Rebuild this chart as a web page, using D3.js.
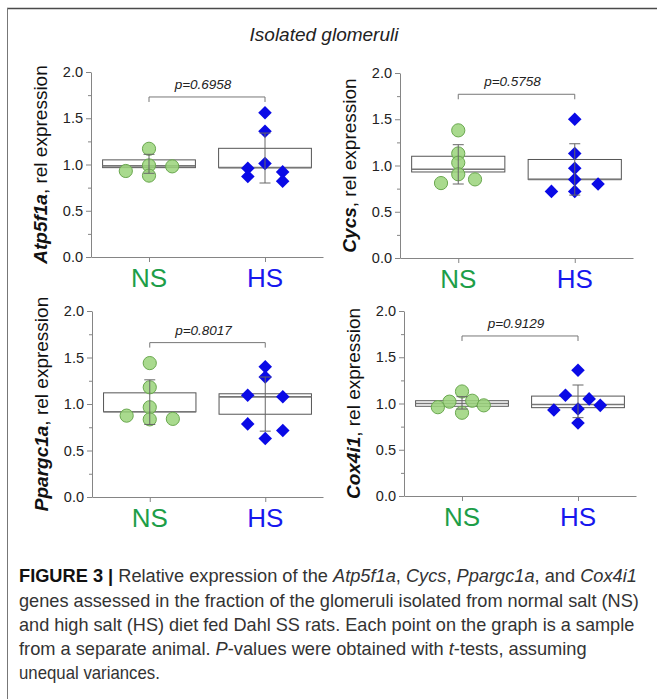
<!DOCTYPE html>
<html>
<head>
<meta charset="utf-8">
<script src="https://cdn.jsdelivr.net/npm/d3@7"></script>
<style>
  html, body { margin: 0; padding: 0; background: #fff; }
  svg { display: block; font-family: "Liberation Sans", Arial, sans-serif; }
</style>
</head>
<body>
<svg id="fig" width="657" height="699"></svg>
<script>
// ── Data ──────────────────────────────────────────────────────────
const groups  = ['NS', 'HS'];
const genes   = ['Atp5f1a', 'Cycs', 'Ppargc1a', 'Cox4i1'];
const pValues = ['0.6958', '0.5758', '0.8017', '0.9129'];
const bracketLevel = [1.73, 1.77, 1.66, 1.73];
const yTicks  = [0, 0.5, 1.0, 1.5, 2.0];
const yMinor  = [0.25, 0.75, 1.25, 1.75];

// individual samples (rel expression) and their horizontal jitter (-1..1 of half box)
const nsValues = [
  [0.93, 1.17, 0.99, 0.88, 0.98],
  [1.38, 1.13, 1.03, 0.905, 0.81, 0.85],
  [1.44, 1.18, 0.965, 0.835, 0.875, 0.84],
  [1.13, 0.90, 1.02, 1.03, 0.96, 0.98]
];
const nsJitter = [
  [-0.5, 0, 0, 0, 0.5],
  [0, 0, 0, 0, -0.37, 0.36],
  [0, 0, 0, 0, -0.5, 0.5],
  [0, 0, -0.27, 0.22, -0.52, 0.47]
];
const hsValues = [
  [1.56, 1.36, 1.01, 0.96, 0.87, 0.92, 0.82],
  [1.50, 1.13, 0.97, 0.85, 0.72, 0.72, 0.80],
  [1.40, 1.29, 1.095, 1.077, 0.786, 0.715, 0.63],
  [1.36, 1.09, 1.05, 0.93, 0.94, 0.98, 0.79]
];
const hsJitter = [
  [0, 0, 0, -0.37, -0.37, 0.38, 0.38],
  [0, 0, 0, 0, 0, -0.5, 0.5],
  [0, 0, -0.38, 0.38, -0.38, 0.38, 0],
  [0, -0.27, 0.24, -0.52, 0, 0.48, 0]
];

// box stats: [whiskerLow, q1, median, q3, whiskerHigh]
const nsBox = [
  [0.905, 0.966, 0.985, 1.05, 1.11],
  [0.80, 0.93, 0.96, 1.10, 1.225],
  [0.78, 0.916, 0.916, 1.12, 1.26],
  [0.94, 0.97, 1.00, 1.03, 1.074]
];
const hsBox = [
  [0.80, 0.966, 0.966, 1.175, 1.34],
  [0.68, 0.85, 0.85, 1.065, 1.235],
  [0.708, 0.89, 1.077, 1.11, 1.29],
  [0.847, 0.955, 0.99, 1.08, 1.20]
];

const captionLines = [
  [['FIGURE 3 | ', 'b'], ['Relative expression of the ', 'n'], ['Atp5f1a', 'i'], [', ', 'n'], ['Cycs', 'i'], [', ', 'n'], ['Ppargc1a', 'i'], [', and ', 'n'], ['Cox4i1', 'i']],
  [['genes assessed in the fraction of the glomeruli isolated from normal salt (NS)', 'n']],
  [['and high salt (HS) diet fed Dahl SS rats. Each point on the graph is a sample', 'n']],
  [['from a separate animal. ', 'n'], ['P', 'i'], ['-values were obtained with ', 'n'], ['t', 'i'], ['-tests, assuming', 'n']],
  [['unequal variances.', 'n']]
];

// ── Layout ────────────────────────────────────────────────────────
const panels = [
  { left: 91,  right: 323, top: 72,  bottom: 257 },
  { left: 400, right: 633, top: 73,  bottom: 258 },
  { left: 92,  right: 323, top: 311, bottom: 497 },
  { left: 404, right: 636, top: 311, bottom: 496 }
];
const GROUP_COLOR = { NS: '#1d9e48', HS: '#1717ee' };
const AXIS_COLOR = '#858585';

const svg = d3.select('#fig');

// figure frame (top + left rules)
svg.append('line').attr('x1', 7).attr('x2', 657).attr('y1', 8.5).attr('y2', 8.5)
  .attr('stroke', '#4a4a4a').attr('stroke-width', 1.6);
svg.append('line').attr('x1', 7.5).attr('x2', 7.5).attr('y1', 8).attr('y2', 699)
  .attr('stroke', '#777').attr('stroke-width', 1);

svg.append('text')
  .attr('x', 324).attr('y', 41)
  .attr('text-anchor', 'middle')
  .attr('font-size', 19).attr('font-style', 'italic').attr('fill', '#222')
  .text('Isolated glomeruli');

genes.forEach((gene, i) => drawPanel(i, gene));

function drawPanel(i, gene) {
  const P = panels[i];
  const g = svg.append('g');

  const y = d3.scaleLinear().domain([0, 2]).range([P.bottom, P.top]);
  const x = d3.scalePoint().domain(groups).range([P.left, P.right]).padding(0.5);
  const halfBox = x.step() * 0.4;
  const jit = d3.scaleLinear().domain([-1, 1]).range([-halfBox, halfBox]);

  // y axis
  const yAx = g.append('g').attr('transform', `translate(${P.left},0)`)
    .call(d3.axisLeft(y).tickValues(yTicks).tickFormat(d3.format('.1f'))
      .tickSize(5).tickSizeOuter(0).tickPadding(3));
  yAx.select('.domain').attr('stroke', AXIS_COLOR);
  yAx.selectAll('.tick line').attr('stroke', AXIS_COLOR);
  yAx.selectAll('.tick text').attr('font-size', 14.5).attr('fill', '#222')
    .attr('font-family', '"Liberation Sans", Arial, sans-serif');

  const yMin = g.append('g').attr('transform', `translate(${P.left},0)`)
    .call(d3.axisLeft(y).tickValues(yMinor).tickFormat('').tickSize(3).tickSizeOuter(0));
  yMin.select('.domain').remove();
  yMin.selectAll('.tick line').attr('stroke', AXIS_COLOR);

  // x axis
  const xAx = g.append('g').attr('transform', `translate(0,${P.bottom})`)
    .call(d3.axisBottom(x).tickFormat('').tickSize(5).tickSizeOuter(0));
  xAx.select('.domain').attr('stroke', AXIS_COLOR);
  xAx.selectAll('.tick line').attr('stroke', AXIS_COLOR);

  g.selectAll('.grp-label').data(groups).join('text')
    .attr('class', 'grp-label')
    .attr('x', d => x(d)).attr('y', P.bottom + 30)
    .attr('text-anchor', 'middle').attr('font-size', 26)
    .attr('fill', d => GROUP_COLOR[d])
    .text(d => d);

  // y title
  const yt = g.append('text')
    .attr('transform', `translate(${P.left - 44},${(P.top + P.bottom) / 2}) rotate(-90)`)
    .attr('text-anchor', 'middle').attr('font-size', 19).attr('fill', '#111');
  yt.append('tspan').attr('font-weight', 'bold').attr('font-style', 'italic').text(gene);
  yt.append('tspan').text(', rel expression');

  // boxes
  const boxes = [
    { grp: 'NS', s: nsBox[i] },
    { grp: 'HS', s: hsBox[i] }
  ];
  g.selectAll('.box').data(boxes).join('rect')
    .attr('class', 'box')
    .attr('x', d => x(d.grp) - halfBox).attr('width', halfBox * 2)
    .attr('y', d => y(d.s[3])).attr('height', d => y(d.s[1]) - y(d.s[3]))
    .attr('fill', 'none').attr('stroke', '#555').attr('stroke-width', 1);
  g.selectAll('.median').data(boxes).join('line')
    .attr('class', 'median')
    .attr('x1', d => x(d.grp) - halfBox).attr('x2', d => x(d.grp) + halfBox)
    .attr('y1', d => y(d.s[2])).attr('y2', d => y(d.s[2]))
    .attr('stroke', '#777').attr('stroke-width', 1.6);

  // points
  const ns = nsValues[i].map((v, k) => ({ v, j: nsJitter[i][k] }));
  const hs = hsValues[i].map((v, k) => ({ v, j: hsJitter[i][k] }));

  g.selectAll('.ns-pt').data(ns).join('circle')
    .attr('class', 'ns-pt')
    .attr('cx', d => x('NS') + jit(d.j)).attr('cy', d => y(d.v))
    .attr('r', 6.6)
    .attr('fill', '#9ad47a').attr('fill-opacity', 0.85)
    .attr('stroke', '#6aa84f').attr('stroke-width', 1);

  const diamond = d3.symbol().type(d3.symbolSquare).size(92);
  g.selectAll('.hs-pt').data(hs).join('path')
    .attr('class', 'hs-pt')
    .attr('d', diamond)
    .attr('transform', d => `translate(${x('HS') + jit(d.j)},${y(d.v)}) rotate(45)`)
    .attr('fill', '#0a0ae6');

  // whiskers (drawn over the points)
  const capW = 5.5;
  g.selectAll('.whisk').data(boxes).join('line')
    .attr('class', 'whisk')
    .attr('x1', d => x(d.grp)).attr('x2', d => x(d.grp))
    .attr('y1', d => y(d.s[0])).attr('y2', d => y(d.s[4]))
    .attr('stroke', '#666').attr('stroke-width', 1);
  boxes.forEach(b => {
    [b.s[0], b.s[4]].forEach(v => {
      g.append('line')
        .attr('x1', x(b.grp) - capW).attr('x2', x(b.grp) + capW)
        .attr('y1', y(v)).attr('y2', y(v))
        .attr('stroke', '#666').attr('stroke-width', 1);
    });
  });

  // significance bracket
  const by = y(bracketLevel[i]);
  g.append('path')
    .attr('d', `M${x('NS')},${by + 5}V${by}H${x('HS')}V${by + 5}`)
    .attr('fill', 'none').attr('stroke', '#777').attr('stroke-width', 1);
  g.append('text')
    .attr('x', (x('NS') + x('HS')) / 2 - 4).attr('y', by - 8)
    .attr('text-anchor', 'middle').attr('font-size', 13.5)
    .attr('font-style', 'italic').attr('fill', '#222')
    .text('p=' + pValues[i]);
}

// ── Caption ───────────────────────────────────────────────────────
const capLeft = 19;
const capBase = [582, 606.5, 630.5, 655, 679];
const capRight = [637, 639, 635, 587, 160];
captionLines.forEach((segs, li) => {
  const t = svg.append('text')
    .attr('font-size', 18).attr('fill', '#333')
    .attr('font-family', '"Liberation Sans", Arial, sans-serif');
  segs.forEach(([txt, st]) => {
    const ts = t.append('tspan').text(txt);
    if (st === 'b') ts.attr('font-weight', 'bold').attr('fill', '#111');
    if (st === 'i') ts.attr('font-style', 'italic');
  });
  const w = t.node().getComputedTextLength();
  const sx = w > 0 ? (capRight[li] - capLeft) / w : 1;
  t.attr('transform', `translate(${capLeft},${capBase[li]}) scale(${sx},1)`);
});
</script>
</body>
</html>
